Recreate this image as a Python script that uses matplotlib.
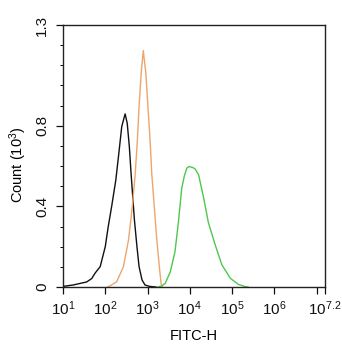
import numpy as np
import matplotlib
matplotlib.use('Agg')
import matplotlib.pyplot as plt
from matplotlib.ticker import MultipleLocator, LogLocator, NullFormatter

plt.rcParams['font.family'] = ['Liberation Sans', 'DejaVu Sans']
plt.rcParams['mathtext.fontset'] = 'custom'
plt.rcParams['mathtext.rm'] = 'Liberation Sans'
plt.rcParams['mathtext.it'] = 'Liberation Sans:italic'

# histogram outlines: log10(FITC-H) vs count (x10^3)
isotype_log = [1.00, 1.24, 1.56, 1.68, 1.76, 1.88, 2.00, 2.07, 2.15, 2.25,
               2.33, 2.39, 2.47, 2.52, 2.57, 2.61, 2.65, 2.69, 2.75, 2.80,
               2.87, 2.94, 3.05, 3.20]
isotype_cnt = [0.003, 0.010, 0.025, 0.042, 0.069, 0.101, 0.200, 0.299, 0.398, 0.531,
               0.680, 0.796, 0.859, 0.812, 0.696, 0.566, 0.448, 0.333, 0.200, 0.101,
               0.035, 0.010, 0.003, 0.000]

blank_log = [2.05, 2.11, 2.27, 2.43, 2.55, 2.64, 2.71, 2.76, 2.80, 2.85,
             2.90, 2.96, 3.01, 3.06, 3.10, 3.16, 3.22, 3.28, 3.32, 3.35]
blank_cnt = [0.000, 0.005, 0.026, 0.101, 0.233, 0.398, 0.564, 0.730, 0.895, 1.061,
             1.173, 1.061, 0.895, 0.730, 0.564, 0.398, 0.233, 0.101, 0.018, 0.000]

stain_log = [3.25, 3.34, 3.42, 3.54, 3.65, 3.73, 3.81, 3.87, 3.93, 3.98,
             4.03, 4.08, 4.13, 4.21, 4.33, 4.44, 4.60, 4.76, 4.96, 5.15,
             5.31, 5.38]
stain_cnt = [0.000, 0.006, 0.018, 0.076, 0.175, 0.320, 0.490, 0.550, 0.590, 0.598,
             0.595, 0.592, 0.585, 0.556, 0.440, 0.320, 0.210, 0.110, 0.043, 0.013,
             0.002, 0.000]

x_ticks = [1, 2, 3, 4, 5, 6, 7, 7.2]
x_labels = ['10$^{1}$', '10$^{2}$', '10$^{3}$', '10$^{4}$', '10$^{5}$', '10$^{6}$',
            '', '10$^{7.2}$']
y_ticks = [0, 0.4, 0.8, 1.3]

fig = plt.figure(figsize=(3.42, 3.5), dpi=100)
ax = fig.add_axes([63 / 342, 63 / 350, 262 / 342, 262 / 350])

ax.plot(10 ** np.array(isotype_log), isotype_cnt, color='#111111', lw=1.0)
ax.plot(10 ** np.array(blank_log), blank_cnt, color='#eea56c', lw=1.0)
ax.plot(10 ** np.array(stain_log), stain_cnt, color='#4cc84c', lw=1.0)

ax.set_xscale('log')
ax.set_xlim(10 ** 1, 10 ** 7.2)
ax.set_ylim(0, 1.3)

ax.set_xticks([10 ** t for t in x_ticks])
ax.set_xticklabels(x_labels)
ax.xaxis.set_minor_locator(LogLocator(base=10, subs=np.arange(2, 10)))
ax.xaxis.set_minor_formatter(NullFormatter())

ax.set_yticks(y_ticks)
ax.set_yticklabels(['%g' % t for t in y_ticks], rotation=90, va='center')
ax.yaxis.set_minor_locator(MultipleLocator(0.1))

ax.tick_params(which='major', direction='out', length=5, width=0.9,
               labelsize=11, colors='#111111')
ax.tick_params(which='minor', direction='out', length=2.5, width=0.7)
ax.tick_params(axis='y', pad=5)
ax.tick_params(axis='x', pad=4)

for sp in ax.spines.values():
    sp.set_linewidth(1.0)
    sp.set_color('#222222')

ax.set_xlabel('FITC-H', fontsize=10.5, labelpad=8)
ax.set_ylabel('Count (10$^{3}$)', fontsize=10.5)
ax.yaxis.set_label_coords(-0.13, 0.465)

fig.savefig('out.png', dpi=100)
